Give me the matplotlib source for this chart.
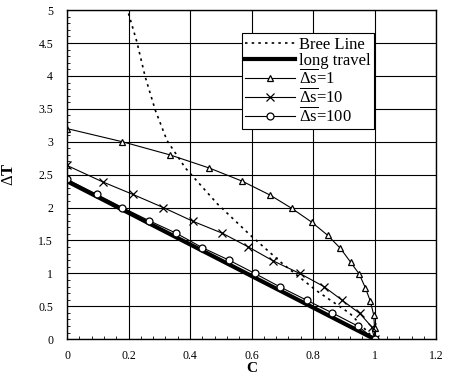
import matplotlib
matplotlib.use("Agg")
import matplotlib.pyplot as plt
from matplotlib.ticker import MultipleLocator

plt.rcParams["font.family"] = ["Liberation Serif", "DejaVu Serif"]
plt.rcParams["mathtext.fontset"] = "custom"
plt.rcParams["mathtext.rm"] = "Liberation Serif"

# Bree line (dotted)
bree_c = [0.2, 0.227, 0.254, 0.287, 0.325, 0.385, 0.488, 0.596, 0.70, 0.81, 0.92, 1.0]
bree_t = [4.95, 4.52, 3.99, 3.48, 3.02, 2.6, 2.06, 1.58, 1.15, 0.74, 0.39, 0.0]

# long travel (thick line)
long_c = [0.0, 1.0]
long_t = [2.4, 0.0]

# Delta s = 1
s1_c = [0, 0.18, 0.335, 0.463, 0.57, 0.66, 0.73, 0.795, 0.847, 0.889, 0.922, 0.95,
        0.97, 0.986, 0.997, 1.0, 1.0]
s1_t = [3.2, 3.0, 2.8, 2.6, 2.4, 2.19, 1.99, 1.78, 1.58, 1.38, 1.17, 0.99,
        0.78, 0.58, 0.37, 0.17, 0.0]

# Delta s = 10
s10_c = [0, 0.116, 0.214, 0.313, 0.41, 0.505, 0.59, 0.67, 0.756, 0.835, 0.895, 0.952, 0.99, 1.0]
s10_t = [2.64, 2.39, 2.2, 2.0, 1.79, 1.61, 1.40, 1.19, 1.0, 0.8, 0.59, 0.39, 0.19, 0.0]

# Delta s = 100
s100_c = [0, 0.097, 0.18, 0.267, 0.355, 0.44, 0.527, 0.61, 0.694, 0.78, 0.862, 0.945, 1.0]
s100_t = [2.43, 2.2, 2.0, 1.8, 1.61, 1.39, 1.2, 1.0, 0.79, 0.59, 0.4, 0.2, 0.0]

x_ticks = [0, 0.2, 0.4, 0.6, 0.8, 1.0, 1.2]
x_labels = ["0", "0.2", "0.4", "0.6", "0.8", "1", "1.2"]
y_ticks = [0, 0.5, 1, 1.5, 2, 2.5, 3, 3.5, 4, 4.5, 5]
y_labels = ["0", "0.5", "1", "1.5", "2", "2.5", "3", "3.5", "4", "4.5", "5"]

fig = plt.figure(figsize=(4.54, 3.76), dpi=100)
ax = fig.add_axes([0.1476, 0.098, 0.813, 0.875])

ax.plot(bree_c, bree_t, color="black", linestyle=(0, (1.5, 2.5)), linewidth=1.2, label="Bree Line")
ax.plot(long_c, long_t, color="black", linewidth=3, label="long travel")
ax.plot(s1_c, s1_t, color="black", linewidth=0.8, marker="^", markersize=5,
        markerfacecolor="white", markeredgewidth=0.9, label=r"$\overline{\Delta\mathrm{s}}$=1")
ax.plot(s10_c, s10_t, color="black", linewidth=0.8, marker="x", markersize=6,
        markeredgewidth=0.9, label=r"$\overline{\Delta\mathrm{s}}$=10")
ax.plot(s100_c, s100_t, color="black", linewidth=0.8, marker="o", markersize=5,
        markerfacecolor="white", markeredgewidth=0.9, label=r"$\overline{\Delta\mathrm{s}}$=100")

ax.set_xlim(0, 1.2)
ax.set_ylim(0, 5)
ax.set_xticks(x_ticks)
ax.set_xticklabels(x_labels)
ax.set_yticks(y_ticks)
ax.set_yticklabels(y_labels)
ax.xaxis.set_minor_locator(MultipleLocator(0.04))
ax.yaxis.set_minor_locator(MultipleLocator(0.1))
ax.tick_params(which="major", direction="in", length=0, labelsize=8.5)
ax.tick_params(axis="y", which="major", pad=10)
ax.tick_params(axis="x", which="major", pad=8)
ax.tick_params(which="minor", direction="in", length=2.5, width=0.6)
ax.grid(True, which="major", color="black", linewidth=0.8)
for sp in ax.spines.values():
    sp.set_linewidth(1.0)

ax.set_xlabel("C", fontsize=11, fontweight="bold")
ax.xaxis.label.set_va("baseline")
ax.xaxis.set_label_coords(0.5, -0.1)
ax.set_ylabel(r"$\Delta$T", fontsize=12, fontweight="bold", rotation=90)
ax.yaxis.set_label_coords(-0.135, 0.5)

leg = ax.legend(loc="upper left", bbox_to_anchor=(0.474, 0.93), fontsize=12,
                frameon=True, fancybox=False, edgecolor="black", framealpha=1,
                handlelength=3.0, borderpad=0.2, labelspacing=0.0, handletextpad=0.2,
                borderaxespad=0)
leg.get_frame().set_linewidth(0.8)

fig.savefig("out.png", dpi=100)
